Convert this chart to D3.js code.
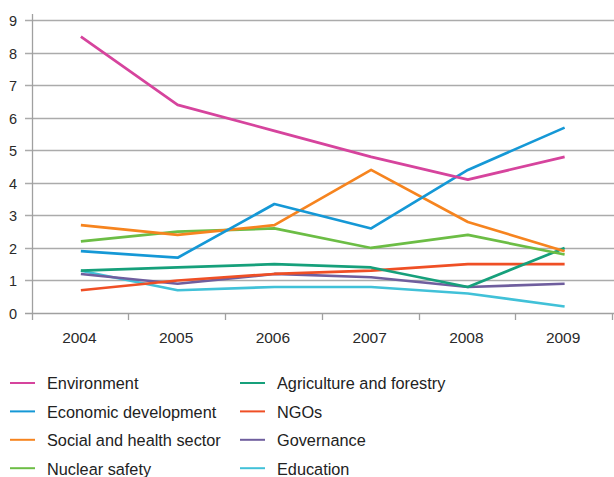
<!DOCTYPE html>
<html>
<head>
<meta charset="utf-8">
<script src="https://cdn.jsdelivr.net/npm/d3@7"></script>
<style>
  body { margin: 0; background: #fff; }
  svg { display: block; font-family: "Liberation Sans", Arial, sans-serif; }
</style>
</head>
<body>
<div id="chart"></div>
<script>
const years = ["2004", "2005", "2006", "2007", "2008", "2009"];
const yTicks = [0, 1, 2, 3, 4, 5, 6, 7, 8, 9];

const seriesNames = [
  "Environment", "Economic development", "Social and health sector", "Nuclear safety",
  "Agriculture and forestry", "NGOs", "Governance", "Education"
];
const seriesColors = [
  "#d6449d", "#1598d6", "#f6841f", "#6cbd45",
  "#16a07b", "#ef4f25", "#6f5e9e", "#41c1d8"
];

const environment = [8.5, 6.4, 5.6, 4.8, 4.1, 4.8];
const economic = [1.9, 1.7, 3.35, 2.6, 4.4, 5.7];
const social = [2.7, 2.4, 2.7, 4.4, 2.8, 1.9];
const nuclear = [2.2, 2.5, 2.6, 2.0, 2.4, 1.8];
const agriculture = [1.3, 1.4, 1.5, 1.4, 0.8, 2.0];
const ngos = [0.7, 1.0, 1.2, 1.3, 1.5, 1.5];
const governance = [1.2, 0.9, 1.2, 1.1, 0.8, 0.9];
const education = [1.3, 0.7, 0.8, 0.8, 0.6, 0.2];

const seriesValues = [environment, economic, social, nuclear, agriculture, ngos, governance, education];

// draw order: later lines drawn on top
const drawOrder = [7, 6, 5, 4, 3, 2, 1, 0];

const width = 614, height = 477;
const margin = { left: 33, top: 20, plotBottom: 313 };

const svg = d3.select("#chart").append("svg")
  .attr("width", width)
  .attr("height", height);

const x = d3.scaleBand()
  .domain(years)
  .range([margin.left - 0.5, 613])
  .padding(0);

const y = d3.scaleLinear()
  .domain([0, 9])
  .range([margin.plotBottom, 20.3]);

// gridlines
svg.append("g")
  .selectAll("line")
  .data(yTicks)
  .enter()
  .append("line")
  .attr("x1", 25)
  .attr("x2", width)
  .attr("y1", d => Math.round(y(d)) + 0.5)
  .attr("y2", d => Math.round(y(d)) + 0.5)
  .attr("stroke", d => d === 0 ? "#a0a0a0" : "#ababab")
  .attr("stroke-width", 1.3);

// y labels
svg.append("g")
  .selectAll("text")
  .data(yTicks)
  .enter()
  .append("text")
  .attr("x", 17)
  .attr("y", d => Math.round(y(d)) + 5.5)
  .attr("text-anchor", "end")
  .attr("font-size", "14.5px")
  .attr("fill", "#2a2a2a")
  .text(d => d);

// y axis line
svg.append("line")
  .attr("x1", 32.5).attr("x2", 32.5)
  .attr("y1", 14).attr("y2", 320)
  .attr("stroke", "#a0a0a0")
  .attr("stroke-width", 1.3);

// x ticks at band edges
const edges = years.map(d => x(d)).concat([x(years[years.length - 1]) + x.bandwidth()]);
svg.append("g")
  .selectAll("line")
  .data(edges.slice(1))
  .enter()
  .append("line")
  .attr("x1", d => Math.round(d) - 0.5)
  .attr("x2", d => Math.round(d) - 0.5)
  .attr("y1", margin.plotBottom)
  .attr("y2", 320)
  .attr("stroke", "#a0a0a0")
  .attr("stroke-width", 1.3);

// x labels
svg.append("g")
  .selectAll("text")
  .data(years)
  .enter()
  .append("text")
  .attr("x", d => x(d) + x.bandwidth() / 2 - 1.5)
  .attr("y", 343)
  .attr("text-anchor", "middle")
  .attr("font-size", "15.5px")
  .attr("fill", "#2a2a2a")
  .text(d => d);

const line = d3.line()
  .x((d, i) => x(years[i]) + x.bandwidth() / 2)
  .y(d => y(d));

svg.append("g")
  .selectAll("path")
  .data(drawOrder)
  .enter()
  .append("path")
  .attr("d", i => line(seriesValues[i]))
  .attr("fill", "none")
  .attr("stroke", i => seriesColors[i])
  .attr("stroke-width", 2.7)
  .attr("stroke-linejoin", "round");

// legend
const legend = svg.append("g")
  .selectAll("g")
  .data(seriesNames)
  .enter()
  .append("g")
  .attr("transform", (d, i) => `translate(${i < 4 ? 10 : 240},${383 + (i % 4) * 28.4})`);

legend.append("line")
  .attr("x1", 0).attr("x2", 25)
  .attr("y1", 0).attr("y2", 0)
  .attr("stroke", (d, i) => seriesColors[i])
  .attr("stroke-width", 2);

legend.append("text")
  .attr("x", 37)
  .attr("y", 6.3)
  .attr("font-size", "16.3px")
  .attr("fill", "#222")
  .text(d => d);
</script>
</body>
</html>
